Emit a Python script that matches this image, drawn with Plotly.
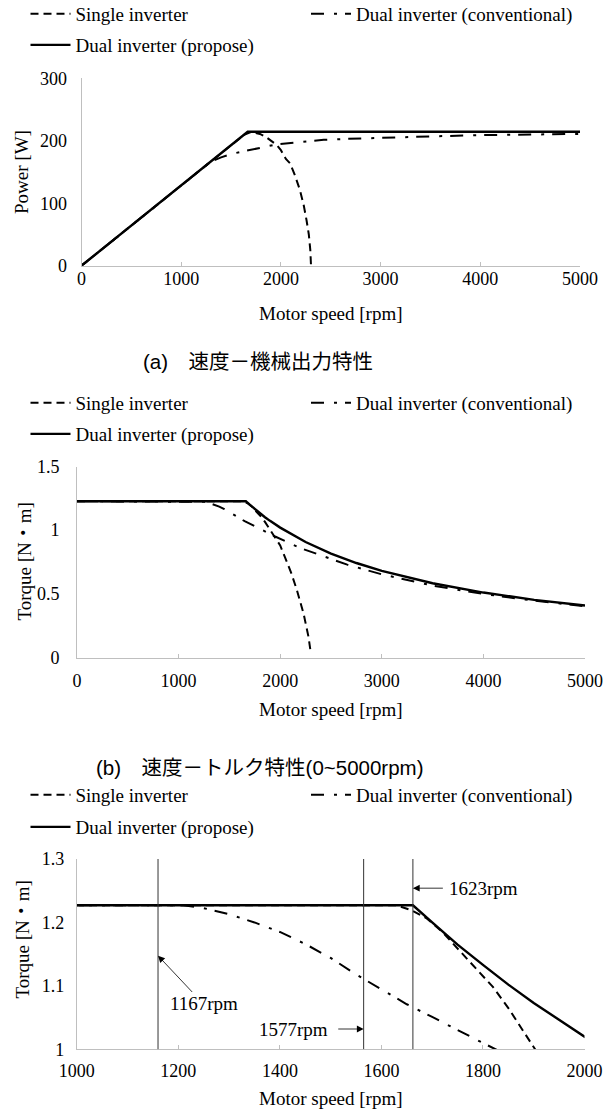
import plotly.graph_objects as go

# ---------------- data ----------------
# Panel (a): speed - mechanical power
speed_pow_single = [0, 1630, 1700, 1750, 1790, 1850, 1900, 1956, 2000, 2050, 2091, 2140, 2191, 2230, 2258, 2280, 2295, 2302]
power_single = [0, 209.4, 214, 213, 211, 206, 200, 193.5, 185, 171, 164, 145, 121, 96, 72, 50, 25, 0]

speed_pow_conv = [0, 1280, 1320, 1400, 1520, 1650, 1750, 1850, 1950, 2200, 2430, 2660, 3000, 3500, 4000, 4500, 5000]
power_conv = [0, 164.5, 168, 173.5, 179.5, 184, 187, 190.5, 194, 198, 201.5, 203, 205, 207, 209, 210, 211]

speed_pow_prop = [0, 1667, 5000]
power_prop = [0, 214.5, 214.5]

# Panels (b) and (c): speed - torque
speed_tq_single = [0, 1630, 1660, 1690, 1720, 1755, 1790, 1820, 1850, 1878, 1905, 1950, 2000, 2066, 2110, 2164, 2230, 2279, 2302]
torque_single = [1.227, 1.227, 1.219, 1.206, 1.185, 1.155, 1.125, 1.098, 1.065, 1.032, 1.0, 0.945, 0.88, 0.75, 0.66, 0.53, 0.345, 0.16, 0.03]

speed_tq_conv = [0, 1210, 1250, 1300, 1350, 1400, 1450, 1500, 1550, 1600, 1650, 1700, 1750, 1800, 1850, 1950, 2200, 2430, 2660, 3000, 3500, 4000, 4500, 5000]
torque_conv = [1.227, 1.227, 1.2225, 1.213, 1.200, 1.185, 1.166, 1.144, 1.118, 1.094, 1.071, 1.051, 1.030, 1.010, 0.990, 0.950, 0.859, 0.792, 0.729, 0.653, 0.565, 0.499, 0.446, 0.403]

speed_tq_prop = [0, 1662, 1700, 1750, 1800, 1850, 1900, 1950, 2000, 2250, 2500, 2750, 3000, 3500, 4000, 4500, 5000]
torque_prop = [1.227, 1.227, 1.200, 1.165, 1.133, 1.102, 1.073, 1.046, 1.020, 0.907, 0.816, 0.742, 0.680, 0.583, 0.510, 0.453, 0.408]

series_names = ["Single inverter", "Dual inverter (conventional)", "Dual inverter (propose)"]

# Panel (c) marker lines and labels
marker_speeds = [1160, 1565, 1662]
marker_labels = ["1167rpm", "1577rpm", "1623rpm"]

ticks_a_y = [0, 100, 200, 300]
ticks_b_y = [0, 0.5, 1, 1.5]
ticks_b_y_text = ["0", "0.5", "1", "1.5"]
ticks_c_y = [1.0, 1.1, 1.2, 1.3]
ticks_c_y_text = ["1", "1.1", "1.2", "1.3"]
ticks_ab_x = [0, 1000, 2000, 3000, 4000, 5000]
ticks_c_x = [1000, 1200, 1400, 1600, 1800, 2000]

x_title = "Motor speed [rpm]"
y_titles = ["Power [W]", "Torque [N・m]", "Torque [N・m]"]
captions = ["(a)\u3000速度－機械出力特性", "(b)\u3000速度－トルク特性(0~5000rpm)"]

# ---------------- style ----------------
W, H = 610, 1110
SERIF = "Liberation Serif, Times New Roman, Noto Sans CJK JP, serif"
SANS = "Liberation Sans, Arial, Noto Sans CJK JP, sans-serif"
AXIS_GRAY = "#BFBFBF"
FS = 19
FS_TICK = 18
FS_CAP = 20.5
styles = [
    dict(color="black", width=2, dash="8px,5px"),
    dict(color="black", width=2, dash="13px,10px,3px,8px"),
    dict(color="black", width=2.4, dash="solid"),
]


def px_x(px):
    return px / W


def px_y(py):
    return 1 - py / H


fig = go.Figure()

panels = [
    dict(xs=[speed_pow_single, speed_pow_conv, speed_pow_prop], ys=[power_single, power_conv, power_prop]),
    dict(xs=[speed_tq_single, speed_tq_conv, speed_tq_prop], ys=[torque_single, torque_conv, torque_prop]),
    dict(xs=[speed_tq_single, speed_tq_conv, speed_tq_prop], ys=[torque_single, torque_conv, torque_prop]),
]

legend_rows = [(14, 45), (403, 434), (795, 827)]
legend_cols = [25.5, 306]

leg_idx = 0
layout_legends = {}
for p, panel in enumerate(panels):
    ax_suffix = "" if p == 0 else str(p + 1)
    for s in range(3):
        leg_idx += 1
        leg_name = "legend" if leg_idx == 1 else f"legend{leg_idx}"
        fig.add_trace(go.Scatter(
            x=panel["xs"][s], y=panel["ys"][s], mode="lines",
            name=series_names[s], line=styles[s],
            xaxis="x" + ax_suffix, yaxis="y" + ax_suffix,
            legend=leg_name, showlegend=True,
        ))
        row_y = legend_rows[p][0] if s < 2 else legend_rows[p][1]
        col_x = legend_cols[1] if s == 1 else legend_cols[0]
        layout_legends[leg_name] = dict(
            x=px_x(col_x), y=px_y(row_y), xanchor="left", yanchor="middle",
            orientation="h", bgcolor="rgba(0,0,0,0)", borderwidth=0,
            itemwidth=40,
            font=dict(family=SERIF, size=FS, color="black"),
        )

# axes domains (pixel based)
dom = [
    dict(x=(81.5, 580), y=(78.3, 265.7)),
    dict(x=(77, 585), y=(466.5, 657.5)),
    dict(x=(76.8, 584.5), y=(859.0, 1049.3)),
]
ranges_x = [[0, 5000], [0, 5000], [1000, 2000]]
ranges_y = [[0, 300], [0, 1.5], [1.0, 1.3]]
ytickvals = [ticks_a_y, ticks_b_y, ticks_c_y]
yticktext = [[str(v) for v in ticks_a_y], ticks_b_y_text, ticks_c_y_text]
xtickvals = [ticks_ab_x, ticks_ab_x, ticks_c_x]
y_standoff = [10, 13, 8]
x_standoff = [-3, 7, 5]
xtitle_y = [313, 709, 1098]
ytitle_x = [22, 23.5, 21.5]
ytitle_y = [172, 562, 940]

axes_layout = {}
annotations = []
for p in range(3):
    sfx = "" if p == 0 else str(p + 1)
    d = dom[p]
    axes_layout["xaxis" + sfx] = dict(
        domain=[px_x(d["x"][0]), px_x(d["x"][1])],
        anchor="y" + sfx, range=ranges_x[p],
        tickvals=xtickvals[p], ticktext=[str(v) for v in xtickvals[p]],
        showline=True, linecolor=AXIS_GRAY, linewidth=1,
        ticks="inside", ticklen=4, tickcolor=AXIS_GRAY,
        showgrid=False, zeroline=False, automargin=False,
        tickfont=dict(family=SERIF, size=FS_TICK, color="black"),
        ticklabelstandoff=x_standoff[p],
        fixedrange=True,
    )
    axes_layout["yaxis" + sfx] = dict(
        domain=[px_y(d["y"][1]), px_y(d["y"][0])],
        anchor="x" + sfx, range=ranges_y[p],
        tickvals=ytickvals[p], ticktext=yticktext[p],
        showline=True, linecolor=AXIS_GRAY, linewidth=1,
        ticks="", showgrid=False, zeroline=False, automargin=False,
        tickfont=dict(family=SERIF, size=FS_TICK, color="black"),
        ticklabelstandoff=y_standoff[p],
        fixedrange=True,
    )
    annotations.append(dict(text=x_title, x=px_x((d["x"][0] + d["x"][1]) / 2), y=px_y(xtitle_y[p]),
                            xref="paper", yref="paper", xanchor="center", yanchor="middle",
                            showarrow=False, font=dict(family=SERIF, size=FS, color="black")))
    annotations.append(dict(text=y_titles[p], x=px_x(ytitle_x[p]), y=px_y(ytitle_y[p]),
                            xref="paper", yref="paper", xanchor="center", yanchor="middle",
                            textangle=-90, showarrow=False,
                            font=dict(family=SERIF, size=FS, color="black")))

# marker lines in panel (c)
shapes = []
for sp in marker_speeds:
    shapes.append(dict(type="line", xref="x3", yref="y3", x0=sp, x1=sp, y0=1.0, y1=1.3,
                       line=dict(color="#333333", width=1)))

# captions
annotations.append(dict(text=captions[0], x=px_x(258), y=px_y(361), xref="paper", yref="paper",
                        xanchor="center", yanchor="middle",
                        showarrow=False, font=dict(family=SANS, size=FS_CAP, color="black")))
annotations.append(dict(text=captions[1], x=px_x(260), y=px_y(767), xref="paper", yref="paper",
                        xanchor="center", yanchor="middle",
                        showarrow=False, font=dict(family=SANS, size=FS_CAP, color="black")))

lab_font = dict(family=SERIF, size=FS, color="black")
arrow_style = dict(showarrow=True, arrowhead=2, arrowsize=1.7, arrowwidth=0.8, arrowcolor="black",
                   xref="x3", yref="y3", axref="x3", ayref="y3", text="")
# 1167rpm: label below-right with diagonal arrow
annotations.append(dict(text=marker_labels[0], x=1251, y=1.072, xref="x3", yref="y3",
                        xanchor="center", yanchor="middle", showarrow=False, font=lab_font))
annotations.append(dict(x=marker_speeds[0], y=1.1475, ax=1230, ay=1.088, **arrow_style))
# 1577rpm: label left with horizontal arrow
annotations.append(dict(text=marker_labels[1], x=1427, y=1.031, xref="x3", yref="y3",
                        xanchor="center", yanchor="middle", showarrow=False, font=lab_font))
annotations.append(dict(x=marker_speeds[1], y=1.032, ax=1512, ay=1.032, **arrow_style))
# 1623rpm: label right with horizontal arrow
annotations.append(dict(text=marker_labels[2], x=1730, y=1.254, xref="x3", yref="y3",
                        xanchor="left", yanchor="middle", showarrow=False, font=lab_font))
annotations.append(dict(x=marker_speeds[2], y=1.254, ax=1724, ay=1.254, **arrow_style))

fig.update_layout(
    width=W, height=H, autosize=False,
    margin=dict(l=0, r=0, t=0, b=0, pad=0, autoexpand=False),
    paper_bgcolor="white", plot_bgcolor="white",
    font=dict(family=SERIF, size=FS, color="black"),
    shapes=shapes, annotations=annotations,
    **axes_layout, **layout_legends,
)

fig.write_html("out.html", config={"displayModeBar": False},
               post_script="document.body.style.margin='0';")
